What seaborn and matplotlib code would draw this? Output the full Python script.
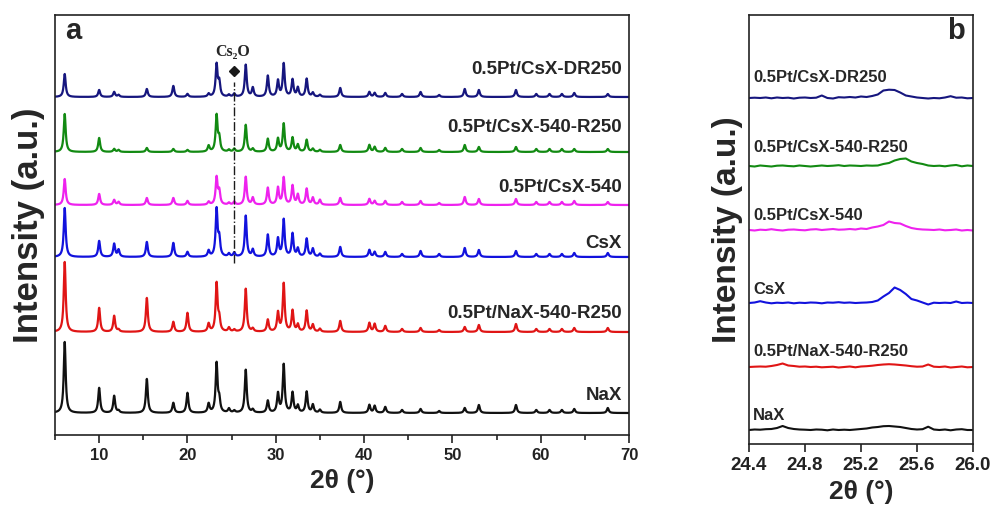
import numpy as np
import pandas as pd
import matplotlib.pyplot as plt
import seaborn as sns

# ---- panel a: XRD peaks (2theta, heights in a.u.) ----
samples = ['NaX', '0.5Pt/NaX-540-R250', 'CsX', '0.5Pt/CsX-540',
           '0.5Pt/CsX-540-R250', '0.5Pt/CsX-DR250']
colors = ['#111111', '#e01515', '#1212dd', '#ee22ee', '#128a12', '#16167e']

peak_pos = [6.1, 10.0, 11.7, 12.2, 15.4, 18.4, 20.0, 22.4, 23.3, 23.6, 24.7, 25.3,
            26.6, 27.4, 29.1, 30.25, 30.9, 31.9, 32.5, 33.5, 34.2, 35.0, 37.3,
            40.6, 41.2, 42.4, 44.3, 46.4, 48.5, 51.4, 53.0, 57.2, 59.5, 61.0,
            62.4, 63.8, 67.6]
h_nax = [71, 25, 17, 2, 34, 10, 20, 9, 49, 12, 4, 2, 43, 3, 12, 19, 48, 20, 7, 21,
         8, 3, 11, 8, 7, 6, 3, 4, 2, 5, 8, 8, 3, 3, 3, 4, 5]
h_ptnax = [70, 24, 16, 2, 34, 10, 19, 8, 48, 12, 4, 2, 43, 3, 12, 19, 48, 21, 7, 21,
           7, 3, 11, 9, 8, 6, 3, 4, 2, 5, 7, 8, 3, 3, 3, 4, 4]
h_csx = [49, 16, 13, 7, 15, 14, 5, 6, 47, 17, 3, 4, 41, 7, 22, 18, 37, 23, 8, 18,
         8, 3, 10, 7, 5, 5, 3, 6, 3, 9, 7, 6, 3, 3, 3, 4, 4]
h_cs540 = [26, 11, 5, 3, 7, 7, 4, 3, 27, 13, 2, 3, 28, 7, 17, 17, 27, 19, 10, 16,
           7, 5, 7, 6, 4, 4, 3, 4, 2, 8, 6, 6, 3, 3, 3, 4, 3]
h_cs540r = [38, 14, 3, 2, 4, 3, 2, 6, 36, 13, 2, 3, 27, 3, 13, 13, 28, 14, 7, 12,
            3, 2, 7, 7, 5, 4, 3, 4, 2, 7, 5, 5, 3, 3, 3, 3, 3]
h_csdr = [23, 7, 5, 2, 8, 11, 3, 3, 32, 14, 2, 3, 32, 9, 21, 16, 33, 17, 9, 18,
          4, 2, 9, 5, 4, 4, 3, 5, 2, 8, 7, 7, 3, 3, 3, 4, 3]
a_heights = [h_nax, h_ptnax, h_csx, h_cs540, h_cs540r, h_csdr]
a_offsets = [22, 103, 178, 230, 283, 338]

# ---- panel b: zoom 24.4-26.0, read point by point ----
b_x = [24.40, 24.44, 24.48, 24.52, 24.56, 24.60, 24.64, 24.68, 24.72, 24.76, 24.80,
       24.84, 24.88, 24.92, 24.96, 25.00, 25.04, 25.08, 25.12, 25.16, 25.20, 25.24,
       25.28, 25.32, 25.36, 25.40, 25.44, 25.48, 25.52, 25.56, 25.60, 25.64, 25.68,
       25.72, 25.76, 25.80, 25.84, 25.88, 25.92, 25.96, 26.00]
b_nax = [0, 0.5, 0.3, 0.8, 1.0, 2.0, 4.0, 2.0, 1.0, 0.5, 0.3, 0, 0.5, 0.3, -0.3, 0.5,
         0, 0.3, 0, 0.5, 1.0, 1.5, 2.5, 3.0, 3.8, 4.0, 3.5, 3.0, 2.0, 1.0, 0.5, 0.8,
         3.3, 0.5, 0, 0.5, -0.3, 0.5, 0.8, 0, 0]
b_ptnax = [0, 0.3, 0.5, 0.3, 1.0, 2.0, 3.5, 1.5, 1.0, 0.3, 0.5, 0, 0.3, -0.3, 0, 0.3,
           -0.5, 0, 0.5, -0.3, 0.5, 0.8, 1.3, 2.0, 2.5, 2.8, 2.5, 2.0, 1.5, 0.8, 0.3,
           0.5, 2.5, 0.3, 0, 0.5, -0.5, 0, 0.5, -0.3, 0]
b_csx = [0, 0.5, 1.8, 0.5, -0.3, 0.3, 0, 0.5, -0.3, 0.3, 0, 0.5, 0.3, -0.3, 0.5, 0.3,
         0.8, 0.2, 0.5, 0, 0.3, 0.5, 1.0, 2.5, 6.5, 10.0, 15.5, 13.0, 9.0, 4.0, 2.5,
         0.5, -1.5, 0.3, 0, 0.3, 0, 1.5, 0, 0.3, 0]
b_cs540 = [0, -0.5, 0.3, 0, 0.8, 0, -0.5, 0.3, 0.5, 0, -0.3, 0.5, 0.8, 0, 0.5, 1.0,
           0.3, 0.5, 1.0, 0.5, 1.5, 1.0, 2.5, 3.5, 5.0, 8.5, 7.0, 6.5, 4.0, 2.0, 1.0,
           0.5, 0.3, 0, 0.5, -0.3, 0, 0.5, -0.5, 0, -0.5]
b_cs540r = [0, -0.5, 0.5, 0, -0.5, 0.3, 0.5, 0, -0.3, 0.5, 0, -0.5, 0, 0.5, 0, 0.3,
            0.8, 0, 0.5, 0.3, 0, 0.5, 0.3, 0.5, 2.0, 3.0, 5.5, 7.0, 7.5, 4.5, 3.0,
            2.0, 0.5, 0, 0.3, -0.3, 0.5, 1.0, -0.3, 0.5, 0]
b_csdr = [0, 0.3, 0, 0.5, -0.3, 0.5, 0, 0.3, -0.5, 0.3, 0.5, 0, 0.3, 2.5, 0, -0.5,
          0.8, 0.5, 1.0, 0.5, 1.5, 1.0, 2.0, 3.5, 7.5, 8.3, 8.0, 5.5, 2.5, 1.5, 0.5,
          0, -0.5, 0, -0.3, 0.5, 1.8, 0.3, 0.5, -0.3, 0]
b_values = [b_nax, b_ptnax, b_csx, b_cs540, b_cs540r, b_csdr]
b_offsets = [14, 77, 141, 214, 278, 346]

cs2o_pos = 25.3

# build long tables
grid = np.linspace(5, 70, 3251)
rows_a = []
for name, hs, off in zip(samples, a_heights, a_offsets):
    y = np.full_like(grid, off, dtype=float)
    for p, h in zip(peak_pos, hs):
        y += h / (1 + ((grid - p) / 0.13) ** 2)
    rows_a.append(pd.DataFrame({'x': grid, 'y': y, 'sample': name}))
df_a = pd.concat(rows_a)

rows_b = []
for name, vals, off in zip(samples, b_values, b_offsets):
    rows_b.append(pd.DataFrame({'x': b_x, 'y': np.array(vals) + off, 'sample': name}))
df_b = pd.concat(rows_b)

sns.set_theme(style='ticks')
plt.rcParams['font.family'] = ['Liberation Sans', 'DejaVu Sans']
plt.rcParams['font.weight'] = 'bold'
plt.rcParams['axes.labelweight'] = 'bold'

pal = dict(zip(samples, colors))
fig = plt.figure(figsize=(9.93, 5.15), dpi=100)
axa = fig.add_axes([55/993, 80/515, 574/993, 420/515])
axb = fig.add_axes([749/993, 71/515, 224/993, 429/515])

sns.lineplot(data=df_a, x='x', y='y', hue='sample', palette=pal, estimator=None,
             sort=False, legend=False, lw=1.6, ax=axa)
sns.lineplot(data=df_b, x='x', y='y', hue='sample', palette=pal, estimator=None,
             sort=False, legend=False, lw=1.5, ax=axb)

axa.set_xlim(5, 70)
axa.set_ylim(0, 420)
axa.set_xticks([10, 20, 30, 40, 50, 60, 70])
axa.set_xticks([5, 15, 25, 35, 45, 55, 65], minor=True)
axb.set_xlim(24.4, 26.0)
axb.set_ylim(0, 429)
axb.set_xticks([24.4, 24.8, 25.2, 25.6, 26.0])
axb.set_xticklabels(['24.4', '24.8', '25.2', '25.6', '26.0'])

for ax, fs in [(axa, 12), (axb, 13.5)]:
    for s in ax.spines.values():
        s.set_visible(True)
        s.set_linewidth(1.2)
        s.set_color('#222222')
    ax.tick_params(axis='x', which='major', direction='out', length=6, width=1.2,
                   labelsize=fs, colors='#222222', pad=3)
    ax.tick_params(axis='x', which='minor', direction='out', length=3.5, width=1.2,
                   colors='#222222')
    ax.tick_params(axis='y', left=False, labelleft=False)
    for t in ax.get_xticklabels():
        t.set_fontweight('bold')
    ax.set_xlabel('2θ (°)', fontsize=19, fontweight='bold', labelpad=5)

axa.set_ylabel('Intensity (a.u.)', fontsize=25, fontweight='bold', labelpad=7)
axb.set_ylabel('Intensity (a.u.)', fontsize=24, fontweight='bold', labelpad=4)

# curve labels
a_label_y = [40, 122, 192, 247, 307, 365]
for name, ly in zip(samples, a_label_y):
    axa.text(69.2, ly, name, ha='right', va='center', fontsize=13.5, fontweight='bold')
b_label_y = [28, 92, 155, 229, 297, 367]
for name, ly in zip(samples, b_label_y):
    axb.text(24.43, ly, name, ha='left', va='center', fontsize=12, fontweight='bold')

axa.text(0.017, 0.995, 'a', transform=axa.transAxes, ha='left', va='top',
         fontsize=21, fontweight='bold')
axb.text(0.965, 0.995, 'b', transform=axb.transAxes, ha='right', va='top',
         fontsize=21, fontweight='bold')

# Cs2O marker
axa.plot([cs2o_pos, cs2o_pos], [172, 353], ls='-.', color='k', lw=1)
axa.plot([cs2o_pos], [364], marker='D', ms=5, color='k')
axa.text(cs2o_pos - 0.2, 383, 'Cs₂O', ha='center', va='center', fontsize=11.5,
         fontweight='bold', family=['Liberation Serif', 'DejaVu Serif'])

fig.savefig('out.png', dpi=100)
